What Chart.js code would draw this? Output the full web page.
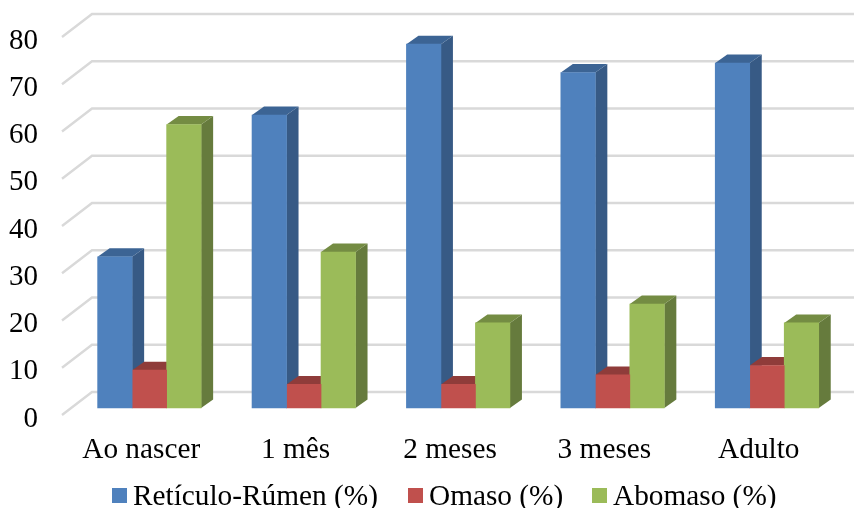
<!DOCTYPE html>
<html>
<head>
<meta charset="utf-8">
<script src="https://cdn.jsdelivr.net/npm/chart.js@4"></script>
<style>
  body { margin: 0; background: #fff; }
  #wrap { position: relative; width: 854px; height: 508px; overflow: hidden; }
  #legend { position: absolute; left: 0; top: 479px; font: 29.3px "Liberation Serif", serif; color: #000; white-space: nowrap; }
  #legend span { position: absolute; top: 0; }
  #legend i { position: absolute; top: 9px; width: 15px; height: 15px; }
</style>
</head>
<body>
<div id="wrap">
  <canvas id="rumenChart" width="854" height="508"></canvas>
  <div id="legend"></div>
</div>
<script>
/* Data */
const ages = ['Ao nascer', '1 mês', '2 meses', '3 meses', 'Adulto'];
const reticuloRumen = [32, 62, 77, 71, 73];
const omaso = [8, 5, 5, 7, 9];
const abomaso = [60, 33, 18, 22, 18];

const seriesNames = ['Retículo-Rúmen (%)', 'Omaso (%)', 'Abomaso (%)'];
const frontColors = ['#4f81bd', '#c0504d', '#9bbb59'];
const topColors = ['#3c6494', '#8f3c3a', '#748c43'];
const sideColors = ['#375a85', '#8a3735', '#667b3d'];

// Depth of the fake 3D
const barDepthX = 12;
const barDepthY = 8.5;
const wallDepthX = 30;
const wallDepthY = 23;
// tick labels sit a little under their grid line
const labelDrop = 4;

const serif = '"Liberation Serif", serif';

const toSeries = (values) => values.map((v, i) => ({ x: i, y: v }));

const wallPlugin = {
  id: 'walls',
  beforeDatasetsDraw(chart) {
    const ctx = chart.ctx;
    const scale = chart.scales.yLabels;
    const left = chart.chartArea.left - 2;
    ctx.save();
    ctx.strokeStyle = '#d9d9d9';
    ctx.lineWidth = 2.4;
    scale.ticks.forEach(tick => {
      const y = scale.getPixelForValue(tick.value) - labelDrop;
      ctx.beginPath();
      ctx.moveTo(left, y);
      ctx.lineTo(left + wallDepthX, y - wallDepthY);
      ctx.lineTo(chart.width, y - wallDepthY);
      ctx.stroke();
    });
    ctx.restore();
  }
};

function fillShape(ctx, color, points) {
  ctx.fillStyle = color;
  ctx.beginPath();
  points.forEach((p, i) => i ? ctx.lineTo(p[0], p[1]) : ctx.moveTo(p[0], p[1]));
  ctx.closePath();
  ctx.fill();
}

// Side and top faces, series by series from the left, all before the fronts
const depthPlugin = {
  id: 'barDepth',
  beforeDatasetsDraw(chart) {
    const ctx = chart.ctx;
    chart.data.datasets.forEach((ds, idx) => {
      chart.getDatasetMeta(idx).data.forEach(bar => {
        const l = bar.x - bar.width / 2;
        const r = bar.x + bar.width / 2;
        fillShape(ctx, sideColors[idx], [[r, bar.y], [r + barDepthX, bar.y - barDepthY], [r + barDepthX, bar.base - barDepthY], [r, bar.base]]);
        fillShape(ctx, topColors[idx], [[l, bar.y], [l + barDepthX, bar.y - barDepthY], [r + barDepthX, bar.y - barDepthY], [r, bar.y]]);
      });
    });
  }
};

const rumenChart = new Chart(document.getElementById('rumenChart'), {
  type: 'bar',
  data: {
    labels: ages,
    datasets: [
      { label: seriesNames[0], data: toSeries(reticuloRumen), backgroundColor: frontColors[0] },
      { label: seriesNames[1], data: toSeries(omaso), backgroundColor: frontColors[1] },
      { label: seriesNames[2], data: toSeries(abomaso), backgroundColor: frontColors[2] }
    ]
  },
  plugins: [wallPlugin, depthPlugin],
  options: {
    responsive: false,
    animation: false,
    events: [],
    barThickness: 34.5,
    layout: { padding: { top: 41, right: 18, bottom: 39, left: 0 } },
    plugins: { legend: { display: false }, tooltip: { enabled: false } },
    scales: {
      // scales the bars use, shifted from the ones with labels
      x: { type: 'linear', display: false, offset: false, min: -0.553, max: 4.447 },
      y: { type: 'linear', display: false, min: -2.328, max: 77.672 },
      xLabels: {
        axis: 'x',
        type: 'category',
        position: 'bottom',
        offset: true,
        afterFit: (scale) => { scale.height = 50; scale.paddingLeft = 0; scale.paddingRight = 0; },
        grid: { display: false },
        border: { display: false },
        ticks: { color: '#000', padding: 6, maxRotation: 0, autoSkip: false, font: { family: serif, size: 29.3 } }
      },
      yLabels: {
        axis: 'y',
        type: 'linear',
        position: 'left',
        min: 0,
        max: 80,
        afterFit: (scale) => { scale.width = 64; scale.paddingTop = 0; scale.paddingBottom = 0; },
        grid: { display: false, drawTicks: false },
        border: { display: false },
        ticks: { color: '#000', padding: 26, stepSize: 10, font: { family: serif, size: 29 } }
      }
    }
  }
});

// Legend, the swatches are much closer to the text than the built in one allows
const legendX = [112, 408, 592];
const legendEl = document.getElementById('legend');
rumenChart.data.datasets.forEach((ds, i) => {
  const box = document.createElement('i');
  box.style.left = legendX[i] + 'px';
  box.style.background = ds.backgroundColor;
  const text = document.createElement('span');
  text.style.left = (legendX[i] + 21) + 'px';
  text.textContent = ds.label;
  legendEl.appendChild(box);
  legendEl.appendChild(text);
});
</script>
</body>
</html>
